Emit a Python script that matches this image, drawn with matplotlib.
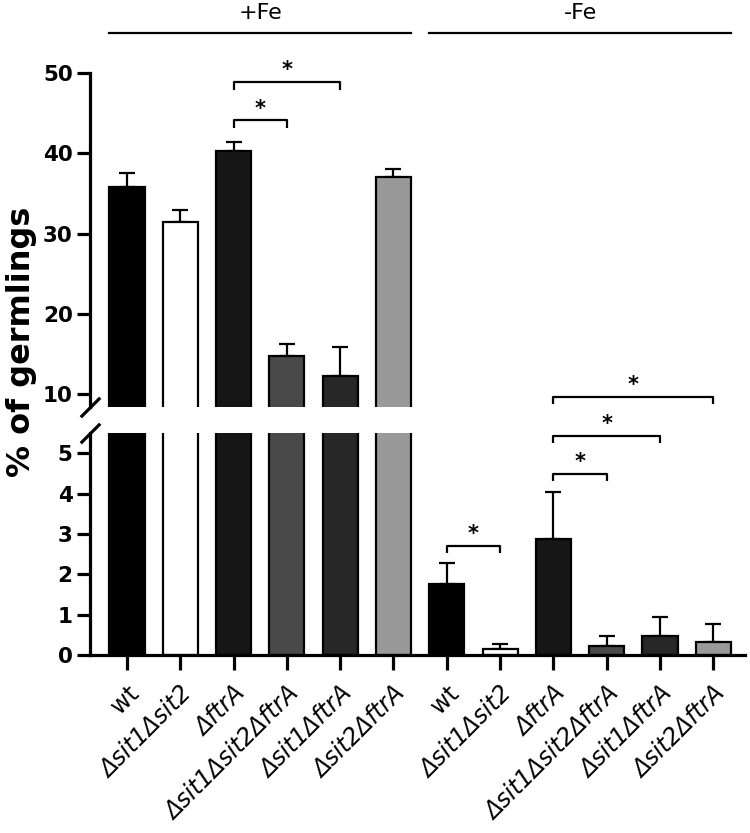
import numpy as np
import matplotlib
matplotlib.use("Agg")
import matplotlib.pyplot as plt

# strains (same order in both iron conditions)
strains = ["wt", "Δsit1Δsit2", "ΔftrA", "Δsit1Δsit2ΔftrA", "Δsit1ΔftrA", "Δsit2ΔftrA"]
conditions = ["+Fe", "-Fe"]

# % of germlings, mean and upper error (SEM)
plus_fe_mean = [35.8, 31.5, 40.3, 14.8, 12.3, 37.0]
plus_fe_err = [1.8, 1.4, 1.1, 1.4, 3.6, 1.1]
minus_fe_mean = [1.75, 0.15, 2.88, 0.22, 0.46, 0.33]
minus_fe_err = [0.53, 0.12, 1.17, 0.26, 0.49, 0.45]

bar_colors = ["#000000", "#ffffff", "#161616", "#494949", "#272727", "#999999"]

# significance brackets: (left bar, right bar, bracket height)
top_brackets = [(2, 3, 44.1), (2, 4, 48.9)]
bottom_brackets = [(6, 7, 2.7), (8, 9, 4.49), (8, 10, 5.43), (8, 11, 6.4)]

means = np.array(plus_fe_mean + minus_fe_mean)
errs = np.array(plus_fe_err + minus_fe_err)
colors = bar_colors * 2
labels = strains * 2
x = np.arange(len(means))

plt.rcParams["font.family"] = "DejaVu Sans"

fig = plt.figure(figsize=(7.5, 8.33), dpi=100)
ax_top = fig.add_axes([0.12, 0.5114, 0.873, 0.401])
ax_bot = fig.add_axes([0.12, 0.2137, 0.873, 0.2663])

spine_w = 2.3
for ax in (ax_top, ax_bot):
    ax.bar(x, means, width=0.66, color=colors, edgecolor="black", linewidth=1.6, zorder=2)
    ax.errorbar(x, means, yerr=[np.zeros_like(errs), errs], fmt="none", ecolor="black",
                elinewidth=1.6, capsize=6, capthick=1.6, zorder=1)
    ax.set_xlim(-0.694, 11.59)
    ax.spines["right"].set_visible(False)
    ax.spines["top"].set_visible(False)
    ax.spines["left"].set_linewidth(spine_w)
    ax.spines["bottom"].set_linewidth(spine_w)
    ax.tick_params(axis="y", length=9.5, width=spine_w, labelsize=15.5, pad=3)

ax_top.set_ylim(8.4, 50)
ax_top.set_yticks([10, 20, 30, 40, 50])
ax_top.set_yticklabels(["10", "20", "30", "40", "50"], fontweight="bold")
ax_top.spines["bottom"].set_visible(False)
ax_top.tick_params(axis="x", bottom=False, labelbottom=False)

ax_bot.set_ylim(0, 5.5)
ax_bot.set_yticks([0, 1, 2, 3, 4, 5])
ax_bot.set_yticklabels(["0", "1", "2", "3", "4", "5"], fontweight="bold")
ax_bot.set_xticks(x)
ax_bot.set_xticklabels(labels, rotation=45, ha="right", rotation_mode="anchor", fontsize=17)
for t in ax_bot.get_xticklabels():
    if t.get_text() != "wt":
        t.set_fontstyle("italic")
ax_bot.tick_params(axis="x", length=11, width=spine_w, pad=8)

# break marks on the left spine
kw = dict(marker=[(-1, -1), (1, 1)], markersize=14, linestyle="none",
          color="black", mec="black", mew=2.3, clip_on=False)
ax_top.plot([0], [0], transform=ax_top.transAxes, **kw)
ax_bot.plot([0], [1], transform=ax_bot.transAxes, **kw)

fig.text(0.029, 0.59, "% of germlings", rotation=90, ha="center", va="center",
         fontsize=23, fontweight="bold")


def bracket(ax, i, j, y, leg, star_gap):
    ax.plot([i, i, j, j], [y - leg, y, y, y - leg], color="black", lw=1.6,
            clip_on=False, solid_capstyle="butt")
    ax.text((i + j) / 2, y + star_gap, "*", ha="center", va="baseline",
            fontsize=15, fontweight="bold", clip_on=False)


for i, j, y in top_brackets:
    bracket(ax_top, i, j, y, 1.0, 0.7)
for i, j, y in bottom_brackets:
    bracket(ax_bot, i, j, y, 0.17, 0.15)

# condition headers
for k, cond in enumerate(conditions):
    lo = x[k * 6] - 0.33
    hi = x[k * 6 + 5] + 0.33
    ax_top.plot([lo, hi], [1.119, 1.119], transform=ax_top.get_xaxis_transform(),
                color="black", lw=1.6, clip_on=False)
    ax_top.text((lo + hi) / 2, 1.18, cond, transform=ax_top.get_xaxis_transform(),
                ha="center", va="center", fontsize=16)

fig.savefig("out.png", dpi=100)
